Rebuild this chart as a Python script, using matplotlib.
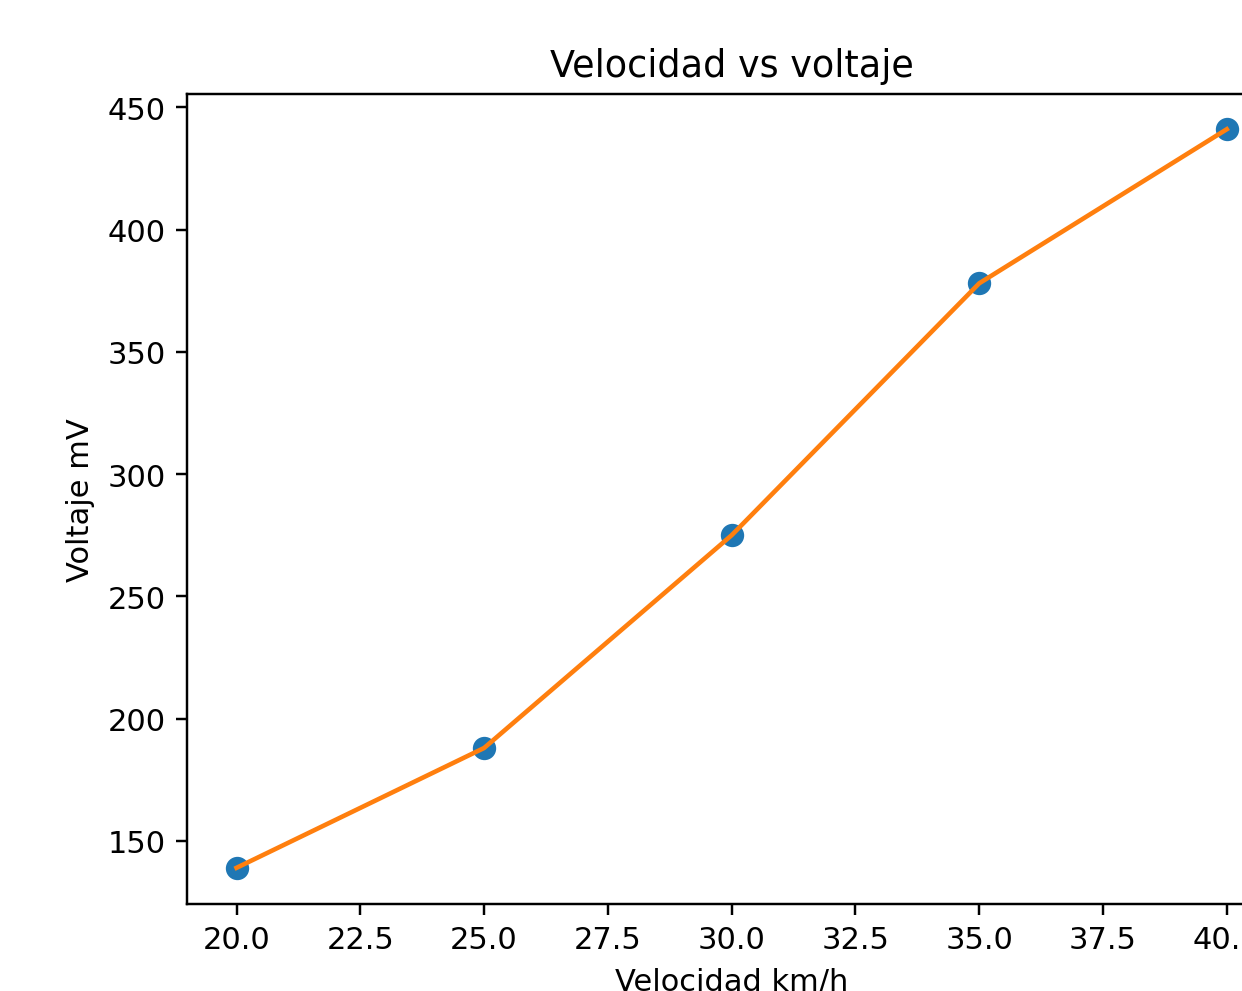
import matplotlib
matplotlib.use("Agg")
import matplotlib.pyplot as plt
import numpy as np

# velocidad (km/h) y voltaje (mV)
velocidad = [20, 25, 30, 35, 40]
voltaje = [139, 188, 275, 378, 441]

x = np.array(velocidad)
y = np.array(voltaje)

fig = plt.figure(figsize=(1242 / 220, 992 / 220), dpi=220)
# the original picture is cropped on the right and bottom
ax = fig.add_axes([0.1506, 0.0877, 0.877, 0.8165])

ax.scatter(x, y, color="#1f77b4", s=44, zorder=2)
ax.plot(x, y, color="#ff7f0e", zorder=3)

ax.set_title("Velocidad vs voltaje")
ax.set_xlabel("Velocidad km/h")
ax.set_ylabel("Voltaje mV")
ax.set_xticks(np.arange(20, 40.1, 2.5))
ax.set_yticks(np.arange(150, 451, 50))
ax.set_xlim(19, 41)
ax.set_ylim(124.2, 455.4)

fig.savefig("out.png", dpi=220)
